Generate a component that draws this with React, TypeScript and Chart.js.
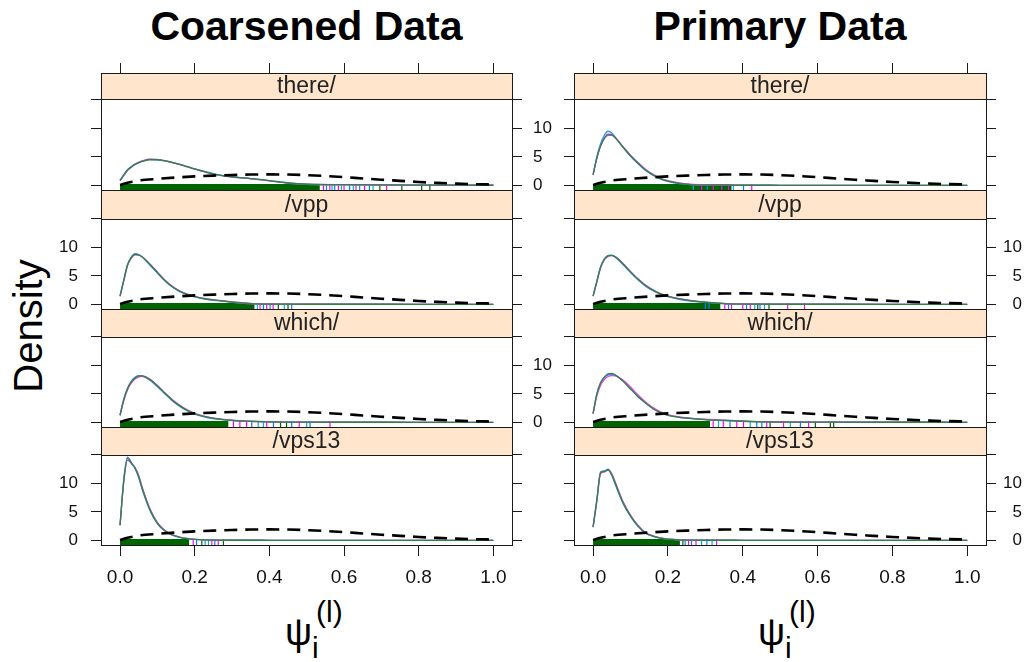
import React, { useEffect, useRef } from "react";
import { Chart, registerables } from "chart.js";

Chart.register(...registerables);

const FONT = '"Liberation Sans", Arial, Helvetica, sans-serif';

// ---------------- data ----------------
const columnTitles = ["Coarsened Data", "Primary Data"];
const stripLabels = ["there/", "/vpp", "which/", "/vps13"];
const xTicks = [0, 0.2, 0.4, 0.6, 0.8, 1.0];
const yTicks = [0, 5, 10, 15];
const yTickText = ["0", "5", "10", ""];

const densityX = [0, 0.01, 0.02, 0.03, 0.04, 0.05, 0.06, 0.08, 0.1, 0.12, 0.14, 0.16, 0.18, 0.2, 0.23, 0.26, 0.3, 0.35, 0.4, 0.45, 0.5, 0.6, 0.8, 1.0];

const priorX = [0, 0.02, 0.05, 0.1, 0.15, 0.2, 0.25, 0.3, 0.35, 0.4, 0.45, 0.5, 0.55, 0.6, 0.65, 0.7, 0.75, 0.8, 0.85, 0.9, 0.95, 1.0];
const priorDensity = [0.05, 0.45, 0.85, 1.15, 1.38, 1.58, 1.72, 1.83, 1.9, 1.93, 1.9, 1.8, 1.65, 1.45, 1.22, 1.0, 0.8, 0.6, 0.45, 0.32, 0.22, 0.15];

// there/ — coarsened
const thereCoarsenedGreen = [0.9, 1.8, 2.7, 3.2, 3.65, 3.95, 4.2, 4.5, 4.5, 4.35, 4.05, 3.7, 3.3, 2.9, 2.35, 1.9, 1.5, 1.2, 0.85, 0.42, 0.2, 0.12, 0.05, 0.03];
const thereCoarsenedMagenta = [0.8, 1.7, 2.6, 3.2, 3.7, 4.05, 4.3, 4.6, 4.55, 4.3, 4.0, 3.65, 3.25, 2.85, 2.3, 1.85, 1.45, 1.15, 0.8, 0.38, 0.2, 0.1, 0.05, 0.03];
const thereCoarsenedBlue = [0.9, 1.9, 2.75, 3.3, 3.75, 4.05, 4.3, 4.55, 4.5, 4.3, 4.0, 3.7, 3.3, 2.9, 2.4, 1.9, 1.55, 1.2, 0.85, 0.45, 0.22, 0.12, 0.05, 0.03];
const thereCoarsenedRugBlock = [0, 0.535];
const thereCoarsenedRugMagenta = [0.545, 0.562, 0.585, 0.6, 0.632, 0.655, 0.714];
const thereCoarsenedRugBlue = [0.553, 0.575, 0.615, 0.642, 0.668];
const thereCoarsenedRugCyan = [0.568, 0.593, 0.625, 0.678];
const thereCoarsenedRugGreen = [0.696, 0.755, 0.808, 0.83];

// there/ — primary
const therePrimaryGreen = [1.9, 4.8, 6.9, 8.3, 9.0, 8.9, 8.3, 6.7, 5.2, 3.9, 2.7, 1.85, 1.2, 0.75, 0.35, 0.15, 0.06, 0.04, 0.03, 0.03, 0.02, 0.02, 0.02, 0.02];
const therePrimaryMagenta = [1.8, 4.7, 6.9, 8.2, 8.8, 8.8, 8.3, 6.8, 5.3, 4.0, 2.85, 1.95, 1.3, 0.85, 0.45, 0.2, 0.08, 0.04, 0.03, 0.03, 0.02, 0.02, 0.02, 0.02];
const therePrimaryBlue = [1.9, 5.0, 7.3, 8.8, 9.5, 9.2, 8.4, 6.7, 5.1, 3.8, 2.65, 1.8, 1.15, 0.7, 0.32, 0.13, 0.06, 0.04, 0.03, 0.03, 0.02, 0.02, 0.02, 0.02];
const therePrimaryRugBlock = [0, 0.37];
const therePrimaryRugMagenta = [0.29, 0.321, 0.344, 0.362, 0.424];
const therePrimaryRugBlue = [0.305, 0.402];
const therePrimaryRugCyan = [0.268, 0.375];
const therePrimaryRugGreen: number[] = [];

// /vpp — coarsened
const vppCoarsenedGreen = [1.5, 4.2, 6.9, 8.2, 8.8, 8.7, 8.3, 7.0, 5.6, 4.2, 3.1, 2.3, 1.75, 1.35, 0.95, 0.7, 0.4, 0.15, 0.06, 0.04, 0.03, 0.03, 0.02, 0.02];
const vppCoarsenedMagenta = [1.4, 4.1, 6.8, 8.1, 8.7, 8.65, 8.3, 7.1, 5.7, 4.3, 3.2, 2.4, 1.8, 1.4, 1.0, 0.75, 0.42, 0.16, 0.07, 0.04, 0.03, 0.03, 0.02, 0.02];
const vppCoarsenedBlue = [1.5, 4.3, 7.0, 8.3, 8.9, 8.75, 8.25, 6.9, 5.5, 4.15, 3.05, 2.25, 1.7, 1.3, 0.9, 0.65, 0.38, 0.14, 0.06, 0.04, 0.03, 0.03, 0.02, 0.02];
const vppCoarsenedRugBlock = [0, 0.36];
const vppCoarsenedRugMagenta = [0.375, 0.393, 0.41];
const vppCoarsenedRugBlue = [0.384, 0.402, 0.46];
const vppCoarsenedRugCyan = [0.368, 0.44];
const vppCoarsenedRugGreen = [0.424, 0.45];

// /vpp — primary
const vppPrimaryGreen = [1.5, 4.0, 6.5, 7.9, 8.5, 8.6, 8.3, 7.1, 5.7, 4.4, 3.3, 2.5, 1.85, 1.4, 0.95, 0.65, 0.38, 0.15, 0.06, 0.04, 0.03, 0.03, 0.02, 0.02];
const vppPrimaryMagenta = [1.4, 3.9, 6.4, 7.8, 8.4, 8.55, 8.35, 7.2, 5.8, 4.5, 3.4, 2.55, 1.9, 1.45, 1.0, 0.7, 0.4, 0.16, 0.07, 0.04, 0.03, 0.03, 0.02, 0.02];
const vppPrimaryBlue = [1.5, 4.1, 6.6, 8.0, 8.6, 8.65, 8.25, 7.0, 5.6, 4.3, 3.2, 2.4, 1.8, 1.35, 0.9, 0.6, 0.35, 0.14, 0.06, 0.04, 0.03, 0.03, 0.02, 0.02];
const vppPrimaryRugBlock = [0, 0.34];
const vppPrimaryRugMagenta = [0.352, 0.37, 0.4, 0.42, 0.52, 0.565];
const vppPrimaryRugBlue = [0.3, 0.31, 0.362, 0.41, 0.446];
const vppPrimaryRugCyan = [0.432, 0.458];
const vppPrimaryRugGreen = [0.44, 0.47];

// which/ — coarsened
const whichCoarsenedGreen = [1.3, 4.0, 5.9, 7.1, 7.8, 8.15, 8.15, 7.5, 6.4, 5.1, 3.9, 2.9, 2.1, 1.5, 0.95, 0.6, 0.35, 0.18, 0.08, 0.05, 0.04, 0.03, 0.02, 0.02];
const whichCoarsenedMagenta = [1.2, 3.8, 5.7, 6.9, 7.6, 8.0, 8.1, 7.6, 6.5, 5.2, 4.0, 3.0, 2.2, 1.6, 1.0, 0.65, 0.38, 0.2, 0.09, 0.05, 0.04, 0.03, 0.02, 0.02];
const whichCoarsenedBlue = [1.3, 4.1, 6.0, 7.2, 7.9, 8.2, 8.1, 7.4, 6.3, 5.0, 3.8, 2.8, 2.05, 1.45, 0.9, 0.58, 0.33, 0.17, 0.08, 0.05, 0.04, 0.03, 0.02, 0.02];
const whichCoarsenedRugBlock = [0, 0.29];
const whichCoarsenedRugMagenta = [0.304, 0.321, 0.339, 0.393, 0.48, 0.5625];
const whichCoarsenedRugBlue = [0.353, 0.411, 0.46, 0.509];
const whichCoarsenedRugCyan = [0.37, 0.384, 0.5];
const whichCoarsenedRugGreen = [0.43, 0.446];

// which/ — primary
const whichPrimaryGreen = [1.6, 5.0, 7.0, 7.95, 8.5, 8.6, 8.3, 7.2, 5.85, 4.5, 3.4, 2.4, 1.7, 1.25, 0.9, 0.7, 0.5, 0.35, 0.2, 0.1, 0.06, 0.04, 0.03, 0.02];
const whichPrimaryMagenta = [1.5, 4.6, 6.5, 7.5, 8.05, 8.2, 8.15, 7.45, 6.2, 4.8, 3.6, 2.6, 1.85, 1.35, 0.95, 0.75, 0.55, 0.4, 0.25, 0.12, 0.07, 0.04, 0.03, 0.02];
const whichPrimaryBlue = [1.6, 4.9, 6.8, 7.8, 8.35, 8.45, 8.25, 7.3, 6.0, 4.6, 3.45, 2.45, 1.75, 1.28, 0.9, 0.68, 0.48, 0.33, 0.19, 0.1, 0.06, 0.04, 0.03, 0.02];
const whichPrimaryRugBlock = [0, 0.3125];
const whichPrimaryRugMagenta = [0.321, 0.348, 0.384, 0.402, 0.464, 0.509, 0.576];
const whichPrimaryRugBlue = [0.366, 0.4375, 0.451, 0.554];
const whichPrimaryRugCyan = [0.335, 0.42, 0.527];
const whichPrimaryRugGreen = [0.473, 0.594, 0.634, 0.643];

// /vps13 — coarsened
const vps13CoarsenedGreen = [2.7, 10.5, 14.4, 13.6, 12.7, 11.2, 9.0, 5.4, 3.0, 1.7, 0.95, 0.55, 0.32, 0.18, 0.08, 0.04, 0.03, 0.03, 0.02, 0.02, 0.02, 0.02, 0.02, 0.02];
const vps13CoarsenedMagenta = [2.6, 10.2, 14.1, 13.5, 12.8, 11.4, 9.2, 5.6, 3.15, 1.8, 1.0, 0.58, 0.34, 0.19, 0.09, 0.05, 0.03, 0.03, 0.02, 0.02, 0.02, 0.02, 0.02, 0.02];
const vps13CoarsenedBlue = [2.7, 10.8, 14.6, 13.7, 12.6, 11.0, 8.8, 5.3, 2.95, 1.65, 0.92, 0.52, 0.3, 0.17, 0.08, 0.04, 0.03, 0.03, 0.02, 0.02, 0.02, 0.02, 0.02, 0.02];
const vps13CoarsenedRugBlock = [0, 0.185];
const vps13CoarsenedRugMagenta = [0.196, 0.246, 0.263];
const vps13CoarsenedRugBlue = [0.205, 0.254];
const vps13CoarsenedRugCyan = [0.228, 0.237];
const vps13CoarsenedRugGreen = [0.219, 0.277];

// /vps13 — primary
const vps13PrimaryGreen = [2.4, 7.0, 11.9, 12.1, 12.35, 11.5, 9.9, 6.6, 4.3, 2.5, 1.3, 0.75, 0.4, 0.22, 0.1, 0.05, 0.03, 0.03, 0.02, 0.02, 0.02, 0.02, 0.02, 0.02];
const vps13PrimaryMagenta = [2.3, 6.8, 11.7, 12.0, 12.45, 11.7, 10.1, 6.8, 4.45, 2.65, 1.4, 0.8, 0.43, 0.24, 0.11, 0.05, 0.03, 0.03, 0.02, 0.02, 0.02, 0.02, 0.02, 0.02];
const vps13PrimaryBlue = [2.4, 7.2, 12.0, 12.2, 12.5, 11.4, 9.7, 6.5, 4.2, 2.45, 1.28, 0.72, 0.38, 0.21, 0.1, 0.05, 0.03, 0.03, 0.02, 0.02, 0.02, 0.02, 0.02, 0.02];
const vps13PrimaryRugBlock = [0, 0.232];
const vps13PrimaryRugMagenta = [0.255, 0.275, 0.33];
const vps13PrimaryRugBlue = [0.246, 0.263, 0.304];
const vps13PrimaryRugCyan = [0.29, 0.318];
const vps13PrimaryRugGreen = [0.24];

// ---------------- panel table (built from the arrays) ----------------
const panels = [
  { row: 0, col: 0, green: thereCoarsenedGreen, magenta: thereCoarsenedMagenta, blue: thereCoarsenedBlue, block: thereCoarsenedRugBlock, rm: thereCoarsenedRugMagenta, rb: thereCoarsenedRugBlue, rc: thereCoarsenedRugCyan, rg: thereCoarsenedRugGreen },
  { row: 0, col: 1, green: therePrimaryGreen, magenta: therePrimaryMagenta, blue: therePrimaryBlue, block: therePrimaryRugBlock, rm: therePrimaryRugMagenta, rb: therePrimaryRugBlue, rc: therePrimaryRugCyan, rg: therePrimaryRugGreen },
  { row: 1, col: 0, green: vppCoarsenedGreen, magenta: vppCoarsenedMagenta, blue: vppCoarsenedBlue, block: vppCoarsenedRugBlock, rm: vppCoarsenedRugMagenta, rb: vppCoarsenedRugBlue, rc: vppCoarsenedRugCyan, rg: vppCoarsenedRugGreen },
  { row: 1, col: 1, green: vppPrimaryGreen, magenta: vppPrimaryMagenta, blue: vppPrimaryBlue, block: vppPrimaryRugBlock, rm: vppPrimaryRugMagenta, rb: vppPrimaryRugBlue, rc: vppPrimaryRugCyan, rg: vppPrimaryRugGreen },
  { row: 2, col: 0, green: whichCoarsenedGreen, magenta: whichCoarsenedMagenta, blue: whichCoarsenedBlue, block: whichCoarsenedRugBlock, rm: whichCoarsenedRugMagenta, rb: whichCoarsenedRugBlue, rc: whichCoarsenedRugCyan, rg: whichCoarsenedRugGreen },
  { row: 2, col: 1, green: whichPrimaryGreen, magenta: whichPrimaryMagenta, blue: whichPrimaryBlue, block: whichPrimaryRugBlock, rm: whichPrimaryRugMagenta, rb: whichPrimaryRugBlue, rc: whichPrimaryRugCyan, rg: whichPrimaryRugGreen },
  { row: 3, col: 0, green: vps13CoarsenedGreen, magenta: vps13CoarsenedMagenta, blue: vps13CoarsenedBlue, block: vps13CoarsenedRugBlock, rm: vps13CoarsenedRugMagenta, rb: vps13CoarsenedRugBlue, rc: vps13CoarsenedRugCyan, rg: vps13CoarsenedRugGreen },
  { row: 3, col: 1, green: vps13PrimaryGreen, magenta: vps13PrimaryMagenta, blue: vps13PrimaryBlue, block: vps13PrimaryRugBlock, rm: vps13PrimaryRugMagenta, rb: vps13PrimaryRugBlue, rc: vps13PrimaryRugCyan, rg: vps13PrimaryRugGreen },
];

// ---------------- layout ----------------
const COLS = [
  { left: 101, right: 512 },
  { left: 574, right: 986 },
];
const ROWS = [
  { stripTop: 73, panelTop: 99, bottom: 190 },
  { stripTop: 190, panelTop: 219, bottom: 309 },
  { stripTop: 309, panelTop: 337, bottom: 427 },
  { stripTop: 427, panelTop: 455, bottom: 545 },
];
const PX_PER_UNIT = 5.7;
const ZERO_ABOVE_BOTTOM = 4.6;
const X_MIN = -0.051;
const X_MAX = 1.05;
const RUG_Y = (3 - ZERO_ABOVE_BOTTOM) / PX_PER_UNIT;
const AXIS_COLOR = "#1a1a1a";
const TEXT_COLOR = "#111";

const fixSize = (w?: number, h?: number) => (s: any) => {
  if (w !== undefined) s.width = w;
  if (h !== undefined) s.height = h;
  s.paddingLeft = 0;
  s.paddingRight = 0;
  s.paddingTop = 0;
  s.paddingBottom = 0;
};

function Panel({ spec }: { spec: any }) {
  const ref = useRef<HTMLCanvasElement>(null);
  const row = ROWS[spec.row];
  const col = COLS[spec.col];
  const isTop = spec.row === 0;
  const isBottom = spec.row === 3;
  const L = spec.col === 0 ? 45 : 30;
  const R = spec.col === 0 ? 55 : 36;
  const T = isTop ? 11 : 1;
  const B = isBottom ? 50 : 1;
  const width = col.right - col.left + L + R;
  const height = row.bottom - row.stripTop + T + B;

  useEffect(() => {
    const canvas = ref.current;
    if (!canvas) return;
    const stripH = row.panelTop - row.stripTop;
    const yMin = -ZERO_ABOVE_BOTTOM / PX_PER_UNIT;
    const yMax = (row.bottom - ZERO_ABOVE_BOTTOM - row.stripTop) / PX_PER_UNIT;
    const showLeft = spec.col === 0 && spec.row % 2 === 1;
    const showRight = spec.col === 0 ? spec.row % 2 === 0 : spec.row % 2 === 1;
    const label = stripLabels[spec.row];

    const stripPlugin = {
      id: "stripHeader",
      beforeDraw(chart: any) {
        const { ctx, chartArea } = chart;
        const { left, right, top } = chartArea;
        ctx.save();
        ctx.fillStyle = "#ffe5cc";
        ctx.fillRect(left, top, right - left, stripH);
        ctx.strokeStyle = AXIS_COLOR;
        ctx.lineWidth = 1;
        ctx.beginPath();
        ctx.moveTo(left, Math.round(top + stripH) + 0.5);
        ctx.lineTo(right, Math.round(top + stripH) + 0.5);
        ctx.stroke();
        ctx.fillStyle = "#222";
        ctx.font = `23px ${FONT}`;
        ctx.textAlign = "center";
        ctx.textBaseline = "middle";
        ctx.fillText(label, (left + right) / 2, top + stripH / 2 + 1);
        ctx.restore();
      },
    };

    const pts = (xs: number[], ys: number[]) => xs.map((x, i) => ({ x, y: ys[i] }));
    const curve = (ys: number[], color: string) => ({
      type: "line",
      data: pts(densityX, ys),
      borderColor: color,
      borderWidth: 1.3,
      pointRadius: 0,
      fill: false,
      cubicInterpolationMode: "monotone",
      xAxisID: "x",
      yAxisID: "y",
    });
    const rug = (xs: number[], color: string) => ({
      type: "line",
      showLine: false,
      data: xs.map((x) => ({ x, y: RUG_Y })),
      pointStyle: "line",
      pointRotation: 90,
      pointRadius: 3,
      pointBorderColor: color,
      pointBackgroundColor: color,
      pointBorderWidth: 1.2,
      xAxisID: "x",
      yAxisID: "y",
    });

    const datasets: any[] = [
      {
        type: "line",
        data: pts(priorX, priorDensity),
        borderColor: "#000",
        borderWidth: 2.6,
        borderDash: [13, 8],
        pointRadius: 0,
        fill: false,
        cubicInterpolationMode: "monotone",
        xAxisID: "x",
        yAxisID: "y",
      },
      curve(spec.green, "#2e8540"),
      curve(spec.magenta, "#e040e0"),
      curve(spec.blue, "#3a8cff"),
      rug(spec.rm, "#ff00ff"),
      rug(spec.rb, "#0080ff"),
      rug(spec.rc, "#00b4c8"),
      rug(spec.rg, "#006400"),
      {
        type: "line",
        data: [
          { x: spec.block[0], y: RUG_Y },
          { x: spec.block[1], y: RUG_Y },
        ],
        borderColor: "#006400",
        borderWidth: 6,
        borderCapStyle: "butt",
        pointRadius: 0,
        xAxisID: "x",
        yAxisID: "y",
      },
    ];

    const gridBase = { display: true, drawOnChartArea: false, color: AXIS_COLOR, lineWidth: 1 };
    const border = { display: true, color: AXIS_COLOR, width: 1 };
    const yTickFont = { family: FONT, size: 17 };
    const yLabel = (v: any) => {
      const i = yTicks.indexOf(Number(v));
      return i >= 0 ? yTickText[i] : "";
    };

    const chart = new Chart(canvas, {
      type: "line",
      data: { datasets },
      options: {
        responsive: false,
        animation: false,
        devicePixelRatio: 1,
        events: [],
        layout: { padding: 0, autoPadding: false },
        plugins: {
          legend: { display: false },
          tooltip: { enabled: false },
          title: { display: false },
        },
        scales: {
          x: {
            type: "linear",
            position: "bottom",
            display: true,
            min: X_MIN,
            max: X_MAX,
            grid: { ...gridBase, drawTicks: isBottom, tickLength: 11 },
            border,
            ticks: {
              display: isBottom,
              color: TEXT_COLOR,
              font: { family: FONT, size: 19 },
              padding: 10,
              maxRotation: 0,
              autoSkip: false,
              callback: (v: any) => Number(v).toFixed(1),
            },
            afterBuildTicks: (s: any) => {
              s.ticks = xTicks.map((v) => ({ value: v }));
            },
            afterFit: fixSize(undefined, B),
          },
          xTop: {
            type: "linear",
            position: "top",
            display: true,
            min: X_MIN,
            max: X_MAX,
            grid: { ...gridBase, drawTicks: isTop, tickLength: 10 },
            border,
            ticks: { display: false, autoSkip: false },
            afterBuildTicks: (s: any) => {
              s.ticks = xTicks.map((v) => ({ value: v }));
            },
            afterFit: fixSize(undefined, T),
          },
          y: {
            type: "linear",
            position: "left",
            display: true,
            min: yMin,
            max: yMax,
            grid: { ...gridBase, drawTicks: true, tickLength: 10 },
            border,
            ticks: {
              display: showLeft,
              color: TEXT_COLOR,
              font: yTickFont,
              padding: 13,
              crossAlign: "near",
              autoSkip: false,
              callback: yLabel,
            },
            afterBuildTicks: (s: any) => {
              s.ticks = yTicks.map((v) => ({ value: v }));
            },
            afterFit: fixSize(L, undefined),
          },
          yRight: {
            type: "linear",
            position: "right",
            display: true,
            min: yMin,
            max: yMax,
            grid: { ...gridBase, drawTicks: true, tickLength: 10 },
            border,
            ticks: {
              display: showRight,
              color: TEXT_COLOR,
              font: yTickFont,
              padding: 11,
              crossAlign: spec.col === 0 ? "near" : "far",
              autoSkip: false,
              callback: yLabel,
            },
            afterBuildTicks: (s: any) => {
              s.ticks = yTicks.map((v) => ({ value: v }));
            },
            afterFit: fixSize(R, undefined),
          },
        },
      } as any,
      plugins: [stripPlugin],
    } as any);

    return () => chart.destroy();
  }, []);

  return (
    <canvas
      ref={ref}
      width={width}
      height={height}
      style={{
        position: "absolute",
        left: col.left - L,
        top: row.stripTop - T,
        width,
        height,
      }}
    />
  );
}

export default function App() {
  const psiOffsets = [0, 473];
  return (
    <div
      style={{
        position: "absolute",
        left: 0,
        top: 0,
        width: 1026,
        height: 662,
        background: "#fff",
        overflow: "hidden",
        fontFamily: FONT,
        color: "#000",
      }}
    >
      {columnTitles.map((t, i) => (
        <div
          key={t}
          style={{
            position: "absolute",
            left: COLS[i].left,
            width: COLS[i].right - COLS[i].left,
            top: 6,
            textAlign: "center",
            fontSize: 41,
            fontWeight: "bold",
            lineHeight: "41px",
            whiteSpace: "nowrap",
          }}
        >
          {t}
        </div>
      ))}
      <div
        style={{
          position: "absolute",
          left: 28 - 100,
          top: 326 - 20,
          width: 200,
          height: 40,
          lineHeight: "40px",
          fontSize: 40,
          textAlign: "center",
          transform: "rotate(-90deg)",
          whiteSpace: "nowrap",
        }}
      >
        Density
      </div>
      {psiOffsets.map((dx, i) => (
        <React.Fragment key={i}>
          <div style={{ position: "absolute", left: 285 + dx, top: 645 - 0.8465 * 38, fontSize: 38, lineHeight: "38px", whiteSpace: "nowrap" }}>ψ</div>
          <div style={{ position: "absolute", left: 312 + dx, top: 658 - 0.8465 * 30, fontSize: 30, lineHeight: "30px", whiteSpace: "nowrap" }}>i</div>
          <div style={{ position: "absolute", left: 316 + dx, top: 622 - 0.8465 * 30, fontSize: 30, lineHeight: "30px", whiteSpace: "nowrap" }}>(l)</div>
        </React.Fragment>
      ))}
      {panels.map((p, i) => (
        <Panel key={i} spec={p} />
      ))}
    </div>
  );
}
